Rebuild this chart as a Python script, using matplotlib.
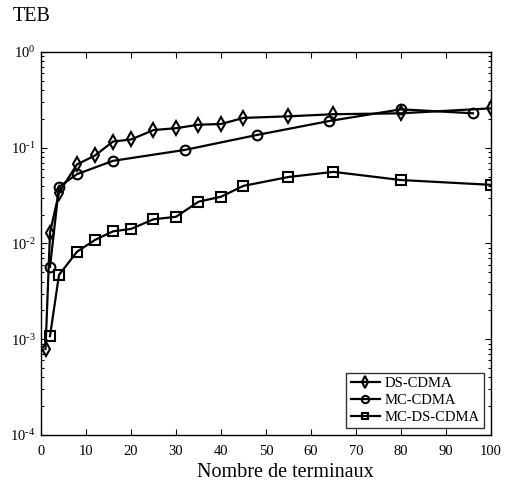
import matplotlib
matplotlib.use("Agg")
import matplotlib.pyplot as plt
from matplotlib.ticker import LogLocator, FixedLocator, FuncFormatter
import numpy as np

plt.rcParams['font.family'] = ['Liberation Serif', 'DejaVu Serif']
plt.rcParams['mathtext.fontset'] = 'custom'
plt.rcParams['mathtext.rm'] = 'Liberation Serif'
plt.rcParams['mathtext.it'] = 'Liberation Serif:italic'

# DS-CDMA
ds_x = [1, 2, 4, 8, 12, 16, 20, 25, 30, 35, 40, 45, 55, 65, 80, 100]
ds_y = [0.00079, 0.013, 0.034, 0.067, 0.083, 0.116, 0.122, 0.153, 0.16,
        0.174, 0.177, 0.205, 0.213, 0.224, 0.229, 0.258]

# MC-CDMA
mc_x = [2, 4, 8, 16, 32, 48, 64, 80, 96]
mc_y = [0.0057, 0.039, 0.053, 0.073, 0.095, 0.136, 0.19, 0.252, 0.229]

# MC-DS-CDMA
mcds_x = [2, 4, 8, 12, 16, 20, 25, 30, 35, 40, 45, 55, 65, 80, 100]
mcds_y = [0.00108, 0.0047, 0.0082, 0.0109, 0.0134, 0.0142, 0.0179, 0.019,
          0.0273, 0.0308, 0.040, 0.0495, 0.056, 0.046, 0.041]

x_ticks = [0, 10, 20, 30, 40, 50, 60, 70, 80, 90, 100]

fig = plt.figure(figsize=(5.13, 4.86), dpi=100)
ax = fig.add_axes([41/513, 1 - 435/486, 450/513, 383/486])

style = dict(color='black', lw=1.6, mfc='none', mec='black', mew=1.5)
ax.plot(ds_x, ds_y, marker='d', ms=7.5, label='DS-CDMA', **style)
ax.plot(mc_x, mc_y, marker='o', ms=7, label='MC-CDMA', **style)
ax.plot(mcds_x, mcds_y, marker='s', ms=6.5, label='MC-DS-CDMA', **style)

ax.set_yscale('log')
ax.set_ylim(1e-4, 1)
ax.set_xlim(0, 100)
ax.xaxis.set_major_locator(FixedLocator(x_ticks))
ax.yaxis.set_major_locator(LogLocator(base=10, numticks=10))
ax.yaxis.set_minor_locator(LogLocator(base=10, subs=range(2, 10), numticks=10))
ax.yaxis.set_major_formatter(FuncFormatter(
    lambda v, p: r'$10^{\text{%d}}$' % int(round(np.log10(v)))))
ax.tick_params(which='both', direction='in', top=True, right=True,
               labelsize=10.5, width=0.8)
ax.tick_params(which='major', length=4)
ax.tick_params(which='minor', length=2)
ax.tick_params(axis='x', pad=7)
ax.tick_params(axis='y', pad=4)
for s in ax.spines.values():
    s.set_linewidth(1.0)

ax.set_xlabel('Nombre de terminaux', fontsize=14.5, labelpad=0)
ax.xaxis.set_label_coords((285 - 41) / 450, -0.072)
fig.text(13/513, 1 - 21/486, 'TEB', fontsize=14.5, ha='left', va='baseline')

leg = ax.legend(loc='lower right', fontsize=10.5, frameon=True, fancybox=False,
                edgecolor='black', handlelength=2.0, handletextpad=0.35,
                borderpad=0.3, labelspacing=0.25, borderaxespad=0.45,
                markerscale=0.75)
leg.get_frame().set_linewidth(1.0)

fig.savefig('out.png', dpi=100)
